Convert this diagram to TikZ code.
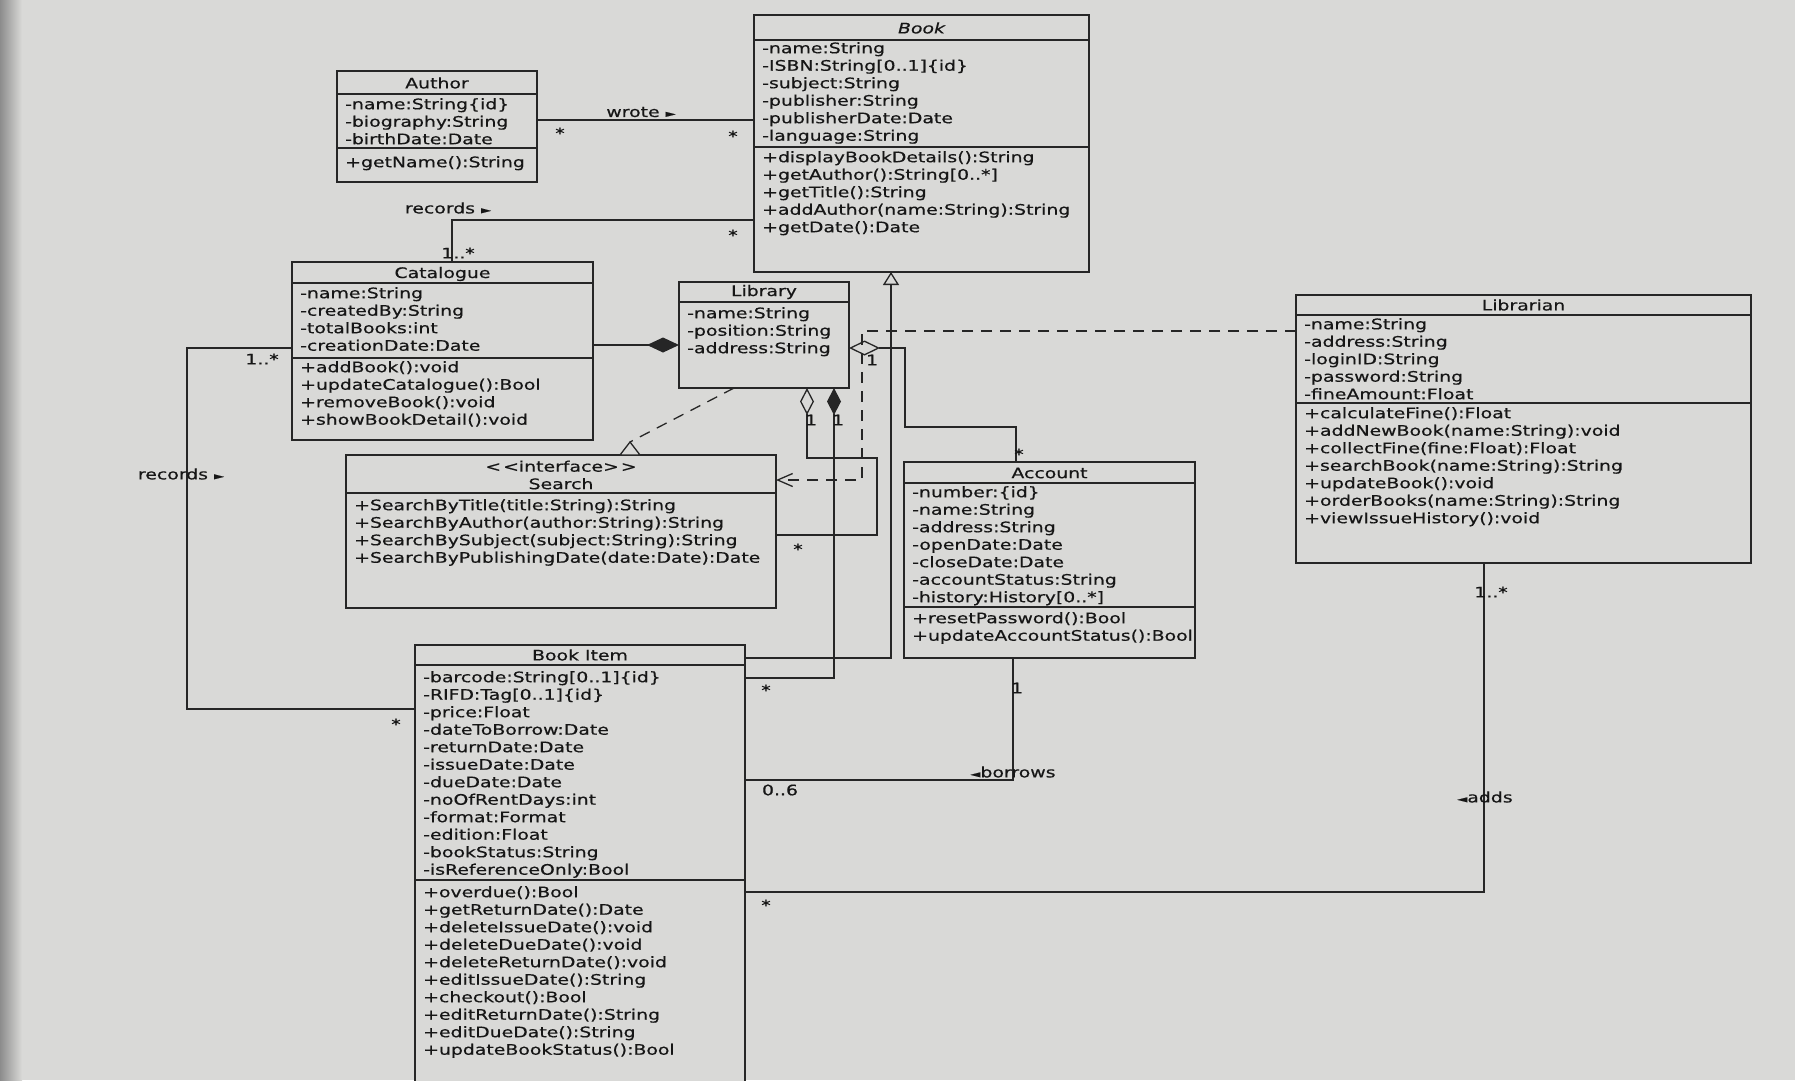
\documentclass[tikz,border=0pt]{standalone}
\usepackage{fontspec}
\setmainfont{DejaVu Sans}[FakeStretch=1.3,FakeBold=0.5]
\usetikzlibrary{arrows.meta}
\definecolor{bg}{HTML}{D9D9D7}
\definecolor{lc}{HTML}{262626}
\definecolor{tc}{HTML}{161616}
\newcommand{\fs}{\fontsize{14.5}{17.5}\selectfont}
\newcommand{\rtri}{{\fontsize{10}{10}\selectfont ►}}
\newcommand{\ltri}{{\fontsize{10}{10}\selectfont ◄}}
\newcommand{\hdiv}[2]{\draw[ln] ([yshift=-#2pt]#1.north west) -- ([yshift=-#2pt]#1.north east);}
\begin{document}
\begin{tikzpicture}[x=1pt,y=-1pt,
  cls/.style={draw=lc, line width=1.3pt, fill=bg, anchor=north west, inner sep=0pt, outer sep=0pt},
  txt/.style={anchor=north west, inner sep=0pt, align=left, font=\fs, text=tc},
  ttl/.style={anchor=center, inner sep=0pt, align=center, font=\fs, text=tc},
  lab/.style={inner sep=0pt, font=\fs, text=tc},
  ln/.style={draw=lc, line width=1.3pt},
  dsh/.style={ln, dash pattern=on 11pt off 8pt}]
\useasboundingbox (0,0) rectangle (1795,1080);
\fill[bg] (0,0) rectangle (1795,1080);
\shade[left color=black!45, right color=bg] (0,0) rectangle (22,1080);

% ---------- classes ----------
% Author
\node[cls, minimum width=200pt, minimum height=111pt] (author) at (337,71) {};
\hdiv{author}{23}\hdiv{author}{77}
\node[ttl] (authorT) at ([yshift=-12pt]author.north) {Author};
\node[txt] (authorA) at ([xshift=8pt,yshift=-27pt]author.north west) {-name:String\{id\}\\-biography:String\\-birthDate:Date};
\node[txt] (authorM) at ([xshift=8pt,yshift=-85pt]author.north west) {+getName():String};

% Book
\node[cls, minimum width=335pt, minimum height=257pt] (book) at (754,15) {};
\hdiv{book}{25}\hdiv{book}{132}
\node[ttl] (bookT) at ([yshift=-13pt]book.north) {\itshape Book};
\node[txt] (bookA) at ([xshift=8pt,yshift=-27pt]book.north west) {-name:String\\-ISBN:String[0..1]\{id\}\\-subject:String\\-publisher:String\\-publisherDate:Date\\-language:String};
\node[txt] (bookM) at ([xshift=8pt,yshift=-136pt]book.north west) {+displayBookDetails():String\\+getAuthor():String[0..*]\\+getTitle():String\\+addAuthor(name:String):String\\+getDate():Date};

% Catalogue
\node[cls, minimum width=301pt, minimum height=178pt] (catalogue) at (292,262) {};
\hdiv{catalogue}{21}\hdiv{catalogue}{96}
\node[ttl] (catalogueT) at ([yshift=-12pt]catalogue.north) {Catalogue};
\node[txt] (catalogueA) at ([xshift=8pt,yshift=-25pt]catalogue.north west) {-name:String\\-createdBy:String\\-totalBooks:int\\-creationDate:Date};
\node[txt] (catalogueM) at ([xshift=8pt,yshift=-99pt]catalogue.north west) {+addBook():void\\+updateCatalogue():Bool\\+removeBook():void\\+showBookDetail():void};

% Library
\node[cls, minimum width=170pt, minimum height=106pt] (library) at (679,282) {};
\hdiv{library}{20}
\node[ttl] (libraryT) at ([yshift=-10pt]library.north) {Library};
\node[txt] (libraryA) at ([xshift=8pt,yshift=-25pt]library.north west) {-name:String\\-position:String\\-address:String};

% Search
\node[cls, minimum width=430pt, minimum height=153pt] (search) at (346,455) {};
\hdiv{search}{38}
\node[ttl] (searchT) at ([yshift=-20pt]search.north) {\fontsize{14.5}{15}\selectfont <\kern2pt<interface>\kern2pt>\\Search};
\node[txt] (searchM) at ([xshift=8pt,yshift=-44pt]search.north west) {+SearchByTitle(title:String):String\\+SearchByAuthor(author:String):String\\+SearchBySubject(subject:String):String\\+SearchByPublishingDate(date:Date):Date};

% Account
\node[cls, minimum width=291pt, minimum height=196pt] (account) at (904,462) {};
\hdiv{account}{21}\hdiv{account}{145}
\node[ttl] (accountT) at ([yshift=-11pt]account.north) {Account};
\node[txt] (accountA) at ([xshift=8pt,yshift=-24pt]account.north west) {-number:\{id\}\\-name:String\\-address:String\\-openDate:Date\\-closeDate:Date\\-accountStatus:String\\-history:History[0..*]};
\node[txt] (accountM) at ([xshift=8pt,yshift=-150pt]account.north west) {+resetPassword():Bool\\+updateAccountStatus():Bool};

% Librarian
\node[cls, minimum width=455pt, minimum height=268pt] (librarian) at (1296,295) {};
\hdiv{librarian}{20}\hdiv{librarian}{108}
\node[ttl] (librarianT) at ([yshift=-10pt]librarian.north) {Librarian};
\node[txt] (librarianA) at ([xshift=8pt,yshift=-23pt]librarian.north west) {-name:String\\-address:String\\-loginID:String\\-password:String\\-fineAmount:Float};
\node[txt] (librarianM) at ([xshift=8pt,yshift=-112pt]librarian.north west) {+calculateFine():Float\\+addNewBook(name:String):void\\+collectFine(fine:Float):Float\\+searchBook(name:String):String\\+updateBook():void\\+orderBooks(name:String):String\\+viewIssueHistory():void};

% Book Item
\node[cls, minimum width=330pt, minimum height=450pt] (bookitem) at (415,645) {};
\hdiv{bookitem}{20}\hdiv{bookitem}{235}
\node[ttl] (bookitemT) at ([yshift=-10pt]bookitem.north) {Book Item};
\node[txt] (bookitemA) at ([xshift=8pt,yshift=-26pt]bookitem.north west) {-barcode:String[0..1]\{id\}\\-RIFD:Tag[0..1]\{id\}\\-price:Float\\-dateToBorrow:Date\\-returnDate:Date\\-issueDate:Date\\-dueDate:Date\\-noOfRentDays:int\\-format:Format\\-edition:Float\\-bookStatus:String\\-isReferenceOnly:Bool};
\node[txt] (bookitemM) at ([xshift=8pt,yshift=-241pt]bookitem.north west) {+overdue():Bool\\+getReturnDate():Date\\+deleteIssueDate():void\\+deleteDueDate():void\\+deleteReturnDate():void\\+editIssueDate():String\\+checkout():Bool\\+editReturnDate():String\\+editDueDate():String\\+updateBookStatus():Bool};

% ---------- connectors ----------
% Author -- Book (wrote)
\draw[ln] (author.east |- 0,120) -- (book.west |- 0,120);
\node[lab] (lwrote) at (641,112) {wrote \rtri};
\node[lab] (mw1) at (560,133) {*};
\node[lab] (mw2) at (733,136) {*};

% Catalogue -- Book (records)
\draw[ln] (catalogue.north -| 452,0) |- (book.west |- 0,220);
\node[lab] (lrec1) at (448,208) {records \rtri};
\node[lab] (mr1) at (458,253) {1..*};
\node[lab] (mr2) at (733,235) {*};

% Catalogue -- Library (composition)
\draw[ln, arrows={-Diamond[length=32pt,width=15pt]}] (catalogue.east |- 0,345) -- (library.west |- 0,345);

% Catalogue -- Book Item (records)
\draw[ln] (catalogue.west |- 0,348) -- (187,348) |- (bookitem.west |- 0,709);
\node[lab] (lrec2) at (181,474) {records \rtri};
\node[lab] (mr3) at (262,359) {1..*};
\node[lab] (mr4) at (396,724) {*};

% Library -- Search (realization)
\coordinate (rt) at (630,442);
\draw[dsh] (library.south -| 734,0) -- (rt);
\draw[ln, fill=bg, line join=miter] (rt) -- ++(-10,13) -- ++(20,0) -- cycle;

% Book Item -- Book (generalization)
\draw[ln, arrows={-Triangle[open,length=13pt,width=16pt]}] (bookitem.east |- 0,658) -| (book.south -| 891,0);

% Library -- Book Item (composition)
\draw[ln, arrows={Diamond[length=27pt,width=14pt]-}] (library.south -| 834,0) |- (bookitem.east |- 0,678);
\node[lab] (mc1) at (838,420) {1};
\node[lab] (mc2) at (766,690) {*};

% Library -- Search (aggregation)
\draw[ln, arrows={Diamond[open,length=27pt,width=14pt]-}] (library.south -| 807,0) |- (877,458) |- (search.east |- 0,535);
\node[lab] (ma1) at (811,420) {1};
\node[lab] (ma2) at (798,549) {*};

% Librarian -- Search (dependency)
\draw[dsh, arrows={-Straight Barb[length=15pt,width=13pt]}] (librarian.west |- 0,331) -| (862,480) -- (search.east |- 0,480);

% Library -- Account (aggregation)
\draw[ln, arrows={Diamond[open,length=31pt,width=15pt]-}] (library.east |- 0,348) -| (905,427) -| (account.north -| 1016,0);
\node[lab] (mb1) at (872,360) {1};
\node[lab] (mb2) at (1019,454) {*};

% Account -- Book Item (borrows)
\draw[ln] (account.south -| 1013,0) |- (bookitem.east |- 0,780);
\node[lab] (mbo1) at (1017,688) {1};
\node[lab] (lbor) at (1013,772) {\ltri borrows};
\node[lab] (mbo2) at (780,790) {0..6};

% Librarian -- Book Item (adds)
\draw[ln] (librarian.south -| 1484,0) |- (bookitem.east |- 0,892);
\node[lab] (mad1) at (1491,592) {1..*};
\node[lab] (lads) at (1485,797) {\ltri adds};
\node[lab] (mad2) at (766,905) {*};
\end{tikzpicture}
\end{document}
